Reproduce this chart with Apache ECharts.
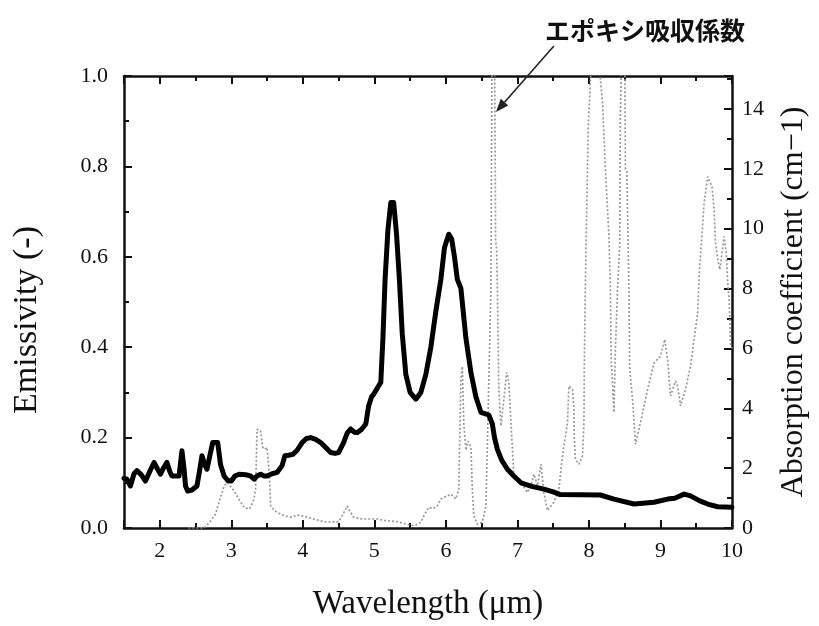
<!DOCTYPE html>
<html>
<head>
<meta charset="utf-8">
<script src="https://cdn.jsdelivr.net/npm/echarts@6/dist/echarts.min.js"></script>
<style>
  html, body { margin: 0; padding: 0; background: #fff; }
  #chart { width: 819px; height: 626px; }
</style>
</head>
<body>
<div id="chart"></div>
<script>
// emissivity curve (thick black, left axis)
var wlEmis = [1.50, 1.54, 1.59, 1.64, 1.68, 1.74, 1.80, 1.86, 1.92, 1.97, 2.01, 2.06, 2.10, 2.14, 2.17, 2.27, 2.31, 2.34, 2.36, 2.39,
  2.45, 2.52, 2.56, 2.59, 2.63, 2.66, 2.70, 2.74, 2.81, 2.85, 2.90, 2.95, 3.00, 3.05, 3.11, 3.20, 3.27, 3.32, 3.36, 3.41,
  3.46, 3.50, 3.57, 3.64, 3.71, 3.75, 3.80, 3.86, 3.92, 3.99, 4.05, 4.11, 4.18, 4.25, 4.32, 4.39, 4.45, 4.50, 4.57, 4.62,
  4.67, 4.72, 4.76, 4.82, 4.88, 4.92, 4.96, 4.99, 5.05, 5.09, 5.12, 5.15, 5.19, 5.23, 5.27, 5.31, 5.35, 5.39, 5.44, 5.50,
  5.58, 5.65, 5.72, 5.79, 5.86, 5.93, 5.98, 6.04, 6.08, 6.12, 6.16, 6.21, 6.28, 6.35, 6.42, 6.49, 6.60, 6.65, 6.68, 6.72,
  6.78, 6.86, 6.95, 7.05, 7.20, 7.37, 7.50, 7.60, 8.16, 8.35, 8.63, 8.91, 9.10, 9.20, 9.33, 9.42, 9.55, 9.66, 9.80, 10.0];
var emissivity = [0.110, 0.108, 0.093, 0.120, 0.127, 0.118, 0.104, 0.125, 0.145, 0.130, 0.119, 0.135, 0.145, 0.125, 0.115, 0.115, 0.171, 0.130, 0.093, 0.082,
  0.084, 0.093, 0.130, 0.160, 0.140, 0.130, 0.160, 0.189, 0.189, 0.140, 0.115, 0.105, 0.104, 0.115, 0.119, 0.118, 0.115, 0.108, 0.115, 0.119,
  0.115, 0.115, 0.120, 0.123, 0.138, 0.160, 0.161, 0.163, 0.172, 0.189, 0.198, 0.200, 0.196, 0.189, 0.178, 0.167, 0.165, 0.167, 0.189, 0.210,
  0.219, 0.212, 0.211, 0.218, 0.230, 0.270, 0.290, 0.296, 0.312, 0.322, 0.420, 0.550, 0.660, 0.720, 0.720, 0.650, 0.550, 0.430, 0.340, 0.300,
  0.285, 0.300, 0.340, 0.400, 0.480, 0.550, 0.620, 0.650, 0.640, 0.600, 0.550, 0.530, 0.420, 0.344, 0.290, 0.256, 0.250, 0.230, 0.200, 0.174,
  0.150, 0.130, 0.115, 0.100, 0.092, 0.086, 0.080, 0.074, 0.073, 0.064, 0.053, 0.057, 0.064, 0.066, 0.075, 0.071, 0.060, 0.053, 0.047, 0.046];

// epoxy absorption coefficient (grey dotted, right axis)
var wlAbs = [2.40, 2.62, 2.70, 2.78, 2.84, 2.90, 2.94, 3.04, 3.12, 3.18, 3.25, 3.30, 3.32, 3.34, 3.36, 3.38, 3.41, 3.44, 3.46, 3.50,
  3.53, 3.55, 3.60, 3.64, 3.70, 3.78, 3.85, 3.92, 4.00, 4.06, 4.15, 4.29, 4.40, 4.50, 4.56, 4.62, 4.66, 4.71, 4.78, 4.85,
  4.95, 5.04, 5.15, 5.32, 5.42, 5.51, 5.58, 5.65, 5.70, 5.76, 5.82, 5.88, 5.93, 6.00, 6.07, 6.14, 6.18, 6.21, 6.23, 6.25,
  6.28, 6.31, 6.35, 6.37, 6.39, 6.44, 6.51, 6.56, 6.60, 6.63, 6.645, 6.68, 6.69, 6.695, 6.71, 6.72, 6.74, 6.77, 6.81, 6.85,
  6.88, 6.91, 6.95, 7.05, 7.14, 7.20, 7.23, 7.28, 7.33, 7.37, 7.42, 7.51, 7.58, 7.63, 7.70, 7.72, 7.77, 7.79, 7.795, 7.81,
  7.86, 7.91, 7.93, 7.935, 7.95, 7.99, 8.02, 8.04, 8.14, 8.16, 8.19, 8.23, 8.28, 8.30, 8.31, 8.35, 8.37, 8.40, 8.43, 8.44,
  8.46, 8.50, 8.51, 8.53, 8.56, 8.57, 8.61, 8.65, 8.72, 8.82, 8.91, 9.00, 9.06, 9.10, 9.14, 9.21, 9.24, 9.28, 9.35, 9.42,
  9.47, 9.52, 9.54, 9.61, 9.66, 9.72, 9.75, 9.77, 9.80, 9.83, 9.89, 9.92, 9.94, 9.96, 9.98, 10.0];
var absorption = [0, 0, 0.20, 0.47, 0.95, 1.41, 1.52, 1.24, 0.90, 0.69, 0.63, 0.85, 1.02, 1.30, 3.30, 3.35, 3.24, 2.70, 2.63, 2.69,
  1.86, 0.74, 0.60, 0.52, 0.45, 0.39, 0.36, 0.43, 0.40, 0.36, 0.30, 0.21, 0.20, 0.21, 0.45, 0.74, 0.55, 0.36, 0.32, 0.30,
  0.30, 0.30, 0.25, 0.21, 0.15, 0.08, 0.10, 0.19, 0.45, 0.69, 0.65, 0.74, 0.97, 1.05, 1.13, 0.97, 1.30, 4.97, 5.40, 3.50,
  2.60, 2.90, 2.70, 1.30, 0.41, 0.13, 0.19, 0.74, 4.86, 8.00, 16.0, 16.0, 12.0, 9.60, 9.30, 8.00, 4.63, 3.41, 4.30, 5.20,
  4.86, 3.52, 1.74, 1.52, 1.19, 1.50, 1.80, 1.41, 2.13, 1.19, 0.58, 0.86, 1.30, 2.41, 3.52, 4.74, 4.63, 3.97, 3.08, 2.30,
  2.13, 2.41, 3.52, 5.41, 8.08, 13.4, 14.9, 16.0, 16.0, 15.0, 14.2, 12.0, 9.74, 8.00, 5.74, 3.86, 5.97, 8.00, 9.41, 14.0,
  16.0, 16.0, 12.0, 11.9, 7.74, 5.30, 4.30, 2.80, 3.52, 4.63, 5.52, 5.74, 6.30, 5.63, 4.41, 4.91, 4.74, 4.08, 4.63, 5.41,
  6.30, 7.19, 8.41, 10.86, 11.74, 11.40, 10.63, 9.52, 8.97, 8.63, 9.74, 9.19, 8.19, 7.63, 6.08, 6.00];

var xMin = 1.5, xMax = 10;
var emisMax = 1.0, emisStep = 0.2;
var absMax = 15.1, absStep = 2;
var annotation = 'エポキシ吸収係数';

function zip(xs, ys) {
  return xs.map(function(x, i) { return [x, ys[i]]; });
}

var serif = '"Liberation Serif", "DejaVu Serif", serif';
var ink = '#111';

var chart = echarts.init(document.getElementById('chart'), null, { renderer: 'canvas' });

var tickCommon = {
  axisLine: { show: true, onZero: false, lineStyle: { color: ink, width: 2.5 } },
  axisTick: { show: true, inside: true, length: 8, lineStyle: { color: ink, width: 2 } },
  minorTick: { show: true, splitNumber: 2, length: 5, lineStyle: { color: ink, width: 2 } },
  splitLine: { show: false },
  minorSplitLine: { show: false }
};

chart.setOption({
  animation: false,
  backgroundColor: '#fff',
  grid: { left: 124, right: 87, top: 76, bottom: 97 },
  xAxis: [
    Object.assign({
      type: 'value',
      position: 'bottom',
      min: xMin,
      max: xMax,
      splitNumber: 9,
      name: 'Wavelength (μm)',
      nameLocation: 'middle',
      nameGap: 60,
      nameTextStyle: { fontFamily: serif, fontSize: 33, color: ink },
      axisLabel: { showMinLabel: false, margin: 12, fontFamily: serif, fontSize: 22, color: ink }
    }, tickCommon),
    Object.assign({
      type: 'value',
      position: 'top',
      min: xMin,
      max: xMax,
      splitNumber: 9,
      axisLabel: { show: false }
    }, tickCommon)
  ],
  yAxis: [
    Object.assign({
      type: 'value',
      position: 'left',
      min: 0,
      max: emisMax,
      interval: emisStep,
      name: 'Emissivity (-)',
      nameLocation: 'middle',
      nameGap: 80,
      nameTextStyle: { fontFamily: serif, fontSize: 34, color: ink, padding: [0, 36, 0, 0] },
      axisLabel: {
        margin: 16, fontFamily: serif, fontSize: 22, color: ink,
        formatter: function(v) { return v.toFixed(1); }
      }
    }, tickCommon),
    Object.assign({
      type: 'value',
      position: 'right',
      min: 0,
      max: absMax,
      interval: absStep,
      name: 'Absorption coefficient (cm−1)',
      nameLocation: 'middle',
      nameGap: 46,
      nameTextStyle: { fontFamily: serif, fontSize: 32, color: ink },
      axisLabel: { showMaxLabel: false, margin: 10, fontFamily: serif, fontSize: 22, color: ink }
    }, tickCommon)
  ],
  series: [
    {
      name: 'absorption',
      type: 'line',
      xAxisIndex: 0,
      yAxisIndex: 1,
      data: zip(wlAbs, absorption),
      showSymbol: false,
      clip: true,
      lineStyle: { color: '#999', width: 1.7, type: [2, 2] },
      z: 2
    },
    {
      name: 'emissivity',
      type: 'line',
      xAxisIndex: 0,
      yAxisIndex: 0,
      data: zip(wlEmis, emissivity),
      showSymbol: false,
      clip: true,
      lineStyle: { color: '#000', width: 5, join: 'round', cap: 'round' },
      z: 3
    }
  ]
});

// annotation arrow pointing at the epoxy absorption peak
var tail = chart.convertToPixel({ xAxisIndex: 0, yAxisIndex: 1 }, [7.51, 16.1]);
var head = chart.convertToPixel({ xAxisIndex: 0, yAxisIndex: 1 }, [6.70, 13.9]);
var dx = head[0] - tail[0], dy = head[1] - tail[1];
var len = Math.sqrt(dx * dx + dy * dy);
var ux = dx / len, uy = dy / len;
var hl = 13, hw = 5;
var base = [head[0] - ux * hl, head[1] - uy * hl];

chart.setOption({
  graphic: [
    {
      type: 'line',
      shape: { x1: tail[0], y1: tail[1], x2: base[0], y2: base[1] },
      style: { stroke: '#222', lineWidth: 1.6 },
      z: 10
    },
    {
      type: 'polygon',
      shape: {
        points: [
          head,
          [base[0] - uy * hw, base[1] + ux * hw],
          [base[0] + uy * hw, base[1] - ux * hw]
        ]
      },
      style: { fill: '#222' },
      z: 10
    },
    {
      type: 'text',
      x: 645,
      y: 30,
      style: {
        text: annotation,
        fontFamily: '"Noto Sans CJK JP", sans-serif',
        fontWeight: 'bold',
        fontSize: 25,
        fill: '#111',
        align: 'center',
        verticalAlign: 'middle'
      },
      z: 10
    }
  ]
});
</script>
</body>
</html>
